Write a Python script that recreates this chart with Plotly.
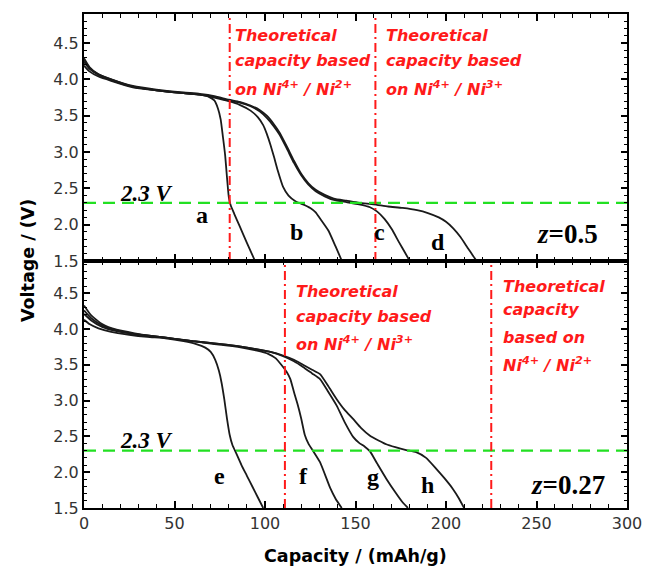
import plotly.graph_objects as go

# ---------------- data ----------------
# top panel, z = 0.5
cap_a = [0, 3, 8, 15, 27, 40, 55, 64, 69, 72, 74, 75.5, 76.8, 78, 79, 80, 81, 83, 86, 90, 94.5]
v_a = [4.24, 4.15, 4.07, 4.0, 3.9, 3.85, 3.81, 3.79, 3.76, 3.71, 3.6, 3.45, 3.2, 2.95, 2.65, 2.38, 2.27, 2.15, 1.98, 1.75, 1.5]

cap_b = [0, 3, 8, 15, 27, 40, 55, 64, 72, 80, 86, 92, 96, 99, 101, 103, 105, 107, 110, 113, 117, 121,
         125, 128, 130, 135, 139, 142.5]
v_b = [4.19, 4.11, 4.04, 3.98, 3.89, 3.85, 3.81, 3.79, 3.75, 3.70, 3.65, 3.57, 3.48, 3.37, 3.25, 3.1,
       2.93, 2.75, 2.52, 2.40, 2.32, 2.28, 2.23, 2.17, 2.1, 1.92, 1.7, 1.5]

cap_c = [0, 3, 8, 15, 27, 40, 55, 64, 72, 80, 86, 92, 97, 101, 105, 108, 112, 116, 120, 124, 128, 133,
         138, 145, 152, 158, 162, 166, 170, 174, 177, 180]
v_c = [4.27, 4.15, 4.06, 3.99, 3.9, 3.85, 3.81, 3.79, 3.76, 3.71, 3.68, 3.63, 3.56, 3.47, 3.35, 3.24,
       3.05, 2.85, 2.68, 2.55, 2.46, 2.39, 2.34, 2.31, 2.28, 2.24, 2.18, 2.08, 1.94, 1.76, 1.63, 1.5]

cap_d = [0, 3, 8, 15, 27, 40, 55, 64, 72, 80, 86, 92, 97, 101, 105, 108, 112, 116, 120, 124, 128, 133,
         138, 145, 152, 160, 168, 176, 184, 190, 196, 200, 204, 208, 212, 215, 217]
v_d = [4.29, 4.17, 4.07, 4.0, 3.91, 3.86, 3.82, 3.8, 3.77, 3.72, 3.69, 3.64, 3.58, 3.5, 3.38, 3.27,
       3.08, 2.88, 2.7, 2.57, 2.48, 2.41, 2.36, 2.33, 2.3, 2.28, 2.25, 2.23, 2.2, 2.16, 2.1, 2.04,
       1.95, 1.83, 1.68, 1.57, 1.5]

# bottom panel, z = 0.27
cap_e = [0, 3, 8, 15, 25, 35, 45, 55, 62, 67, 70, 72.5, 74.5, 76, 77.5, 79, 80.5, 82, 84, 87, 90, 93, 96, 99]
v_e = [4.13, 4.07, 4.01, 3.96, 3.92, 3.89, 3.87, 3.83, 3.79, 3.74, 3.68, 3.57, 3.42, 3.25, 3.02, 2.75,
       2.52, 2.38, 2.27, 2.1, 1.95, 1.8, 1.65, 1.5]

cap_f = [0, 4, 10, 18, 28, 38, 48, 60, 72, 85, 95, 102, 106, 109, 112, 114, 116, 118, 120, 122, 124,
         126.5, 130.4, 136, 139, 142.4]
v_f = [4.21, 4.12, 4.03, 3.97, 3.93, 3.9, 3.87, 3.83, 3.79, 3.75, 3.7, 3.65, 3.59, 3.5, 3.4, 3.3,
       3.12, 2.95, 2.75, 2.52, 2.40, 2.3, 2.14, 1.78, 1.63, 1.5]

cap_g = [0, 4, 10, 18, 28, 38, 48, 60, 72, 85, 95, 103, 110, 116, 121, 126, 130.4, 135, 139.6, 144,
         148.8, 152, 155, 158, 162, 167, 172, 176, 179]
v_g = [4.26, 4.15, 4.05, 3.98, 3.93, 3.9, 3.87, 3.83, 3.8, 3.76, 3.72, 3.68, 3.62, 3.55, 3.47, 3.38,
       3.3, 3.12, 2.93, 2.7, 2.49, 2.41, 2.36, 2.29, 2.12, 1.91, 1.72, 1.58, 1.5]

cap_h = [0, 4, 10, 18, 28, 38, 48, 60, 72, 85, 95, 103, 110, 116, 121, 126, 130.4, 135, 139.6, 144,
         148.8, 153, 158, 163, 167, 172, 178, 183.5, 189, 194.5, 199, 203.7, 207, 210]
v_h = [4.33, 4.19, 4.07, 3.99, 3.94, 3.9, 3.87, 3.83, 3.8, 3.76, 3.72, 3.68, 3.63, 3.57, 3.5, 3.43,
       3.37, 3.2, 3.02, 2.87, 2.74, 2.62, 2.51, 2.44, 2.39, 2.35, 2.31, 2.28, 2.2, 2.05, 1.92, 1.77,
       1.64, 1.5]

top_curves = [(cap_a, v_a), (cap_b, v_b), (cap_c, v_c), (cap_d, v_d)]
bottom_curves = [(cap_e, v_e), (cap_f, v_f), (cap_g, v_g), (cap_h, v_h)]

cutoff_v = 2.3
theo_top = [80.5, 161]
theo_bottom = [111, 225]
x_range = [0, 300]
y_range_top = [1.5, 4.9]
y_range_bottom = [1.5, 4.95]

top_letters = ["a", "b", "c", "d"]
top_letter_x = [65, 117.5, 163.5, 195.6]
top_letter_y = [2.14, 1.9, 1.9, 1.76]
bottom_letters = ["e", "f", "g", "h"]
bottom_letter_x = [75, 121, 159.7, 190]
bottom_letter_y = [1.95, 1.95, 1.93, 1.82]

# ---------------- figure ----------------
fig = go.Figure()

curve_line = dict(color="#1a1a1a", width=1.8, shape="spline", smoothing=0.5)
for cap, v in top_curves:
    fig.add_trace(go.Scatter(x=cap, y=v, mode="lines", line=curve_line,
                             xaxis="x", yaxis="y", showlegend=False, hoverinfo="skip"))
for cap, v in bottom_curves:
    fig.add_trace(go.Scatter(x=cap, y=v, mode="lines", line=curve_line,
                             xaxis="x2", yaxis="y2", showlegend=False, hoverinfo="skip"))

green = dict(color="#22e022", width=2.2, dash="12px,7px")
fig.add_trace(go.Scatter(x=x_range, y=[cutoff_v, cutoff_v], mode="lines", line=green,
                         xaxis="x", yaxis="y", showlegend=False, hoverinfo="skip"))
fig.add_trace(go.Scatter(x=x_range, y=[cutoff_v, cutoff_v], mode="lines", line=green,
                         xaxis="x2", yaxis="y2", showlegend=False, hoverinfo="skip"))

red = dict(color="#ff1a1a", width=2, dash="9px,4px,2px,4px")
for xv in theo_top:
    fig.add_trace(go.Scatter(x=[xv, xv], y=y_range_top, mode="lines", line=red,
                             xaxis="x", yaxis="y", showlegend=False, hoverinfo="skip"))
for xv in theo_bottom:
    fig.add_trace(go.Scatter(x=[xv, xv], y=y_range_bottom, mode="lines", line=red,
                             xaxis="x2", yaxis="y2", showlegend=False, hoverinfo="skip"))

sans = "DejaVu Sans, Verdana, sans-serif"
serif = "Liberation Serif, Times New Roman, serif"

tickfont = dict(family=sans, size=16, color="#333333")
common = dict(showline=True, linewidth=2, linecolor="black", mirror="ticks",
              ticks="inside", tickcolor="black", tickwidth=1.5, showgrid=False,
              zeroline=False, tickfont=tickfont, automargin=False)

xcommon = dict(common, range=x_range, tick0=0, dtick=50, ticklen=7,
               minor=dict(ticks="inside", dtick=10, ticklen=4, tickcolor="black", tickwidth=1))
ycommon = dict(common, tick0=1.5, dtick=0.5, ticklen=6, tickformat=".1f",
               minor=dict(ticks="inside", dtick=0.1, ticklen=3, tickcolor="black", tickwidth=1))

fig.update_layout(
    width=645, height=570,
    margin=dict(l=84, r=18, t=14, b=62, autoexpand=False),
    paper_bgcolor="white", plot_bgcolor="white",
    xaxis=dict(xcommon, domain=[0, 1], anchor="y", showticklabels=False),
    yaxis=dict(ycommon, domain=[0.5, 1], anchor="x", range=y_range_top),
    xaxis2=dict(xcommon, domain=[0, 1], anchor="y2"),
    yaxis2=dict(ycommon, domain=[0, 0.5], anchor="x2", range=y_range_bottom),
)

ann = []

for t, x, y in zip(top_letters, top_letter_x, top_letter_y):
    ann.append(dict(x=x, y=y, xref="x", yref="y", text="<b>%s</b>" % t, showarrow=False,
                    font=dict(family=serif, size=24, color="black")))
for t, x, y in zip(bottom_letters, bottom_letter_x, bottom_letter_y):
    ann.append(dict(x=x, y=y, xref="x2", yref="y2", text="<b>%s</b>" % t, showarrow=False,
                    font=dict(family=serif, size=24, color="black")))

ann.append(dict(x=249, y=1.875, xref="x", yref="y", xanchor="left", text="<b><i>z</i>=0.5</b>",
                showarrow=False, font=dict(family=serif, size=27, color="black")))
ann.append(dict(x=246, y=1.82, xref="x2", yref="y2", xanchor="left", text="<b><i>z</i>=0.27</b>",
                showarrow=False, font=dict(family=serif, size=27, color="black")))

ann.append(dict(x=34.6, y=2.43, xref="x", yref="y", text="<b><i>2.3 V</i></b>",
                showarrow=False, font=dict(family=serif, size=23, color="black")))
ann.append(dict(x=34.6, y=2.44, xref="x2", yref="y2", text="<b><i>2.3 V</i></b>",
                showarrow=False, font=dict(family=serif, size=23, color="black")))

redfont = dict(family=sans, size=16, color="#ff1a1a")
def red_block(lines, x, ys, xr, yr):
    for line, y in zip(lines, ys):
        ann.append(dict(x=x, y=y, xref=xr, yref=yr, xanchor="left", yanchor="middle",
                        text="<b><i>%s</i></b>" % line, showarrow=False, font=redfont))

red_block(["Theoretical", "capacity based", "on Ni<sup>4+</sup> / Ni<sup>2+</sup>"],
          82.5, [4.60, 4.26, 3.87], "x", "y")
red_block(["Theoretical", "capacity based", "on Ni<sup>4+</sup> / Ni<sup>3+</sup>"],
          166, [4.60, 4.26, 3.87], "x", "y")
red_block(["Theoretical", "capacity based", "on Ni<sup>4+</sup> / Ni<sup>3+</sup>"],
          116, [4.52, 4.18, 3.80], "x2", "y2")
red_block(["Theoretical", "capacity", "based on", "Ni<sup>4+</sup> / Ni<sup>2+</sup>"],
          230.5, [4.59, 4.27, 3.88, 3.50], "x2", "y2")

ann.append(dict(x=-0.103, y=0.5, xref="paper", yref="paper", textangle=-90,
                xanchor="center", yanchor="middle",
                text="<b>Voltage / (V)</b>", showarrow=False,
                font=dict(family=sans, size=17.5, color="black")))
ann.append(dict(x=0.5, y=-0.097, xref="paper", yref="paper",
                xanchor="center", yanchor="middle",
                text="<b>Capacity / (mAh/g)</b>", showarrow=False,
                font=dict(family=sans, size=17.5, color="black")))

fig.update_layout(annotations=ann)
fig.write_html("out.html")
